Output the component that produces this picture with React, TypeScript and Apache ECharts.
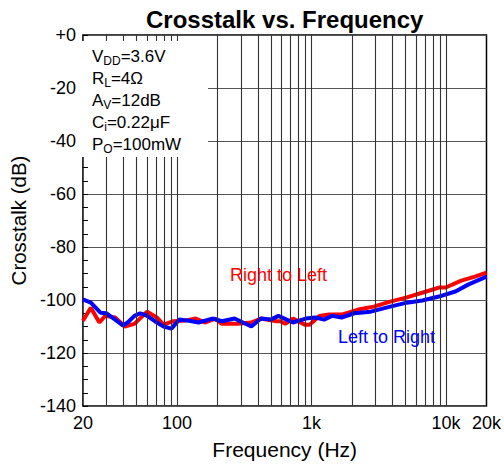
import React, { useEffect, useRef } from "react";
import * as echarts from "echarts";

const redFreq = [20, 22.9, 26.5, 29.3, 34.7, 40.9, 48.3, 60, 70.8, 79.6, 94, 117, 138, 163, 192, 216, 282, 357, 421, 550, 587, 638, 729, 891, 968, 1143, 1350, 1676, 2223, 2903, 3854, 5114, 7132, 8856, 9950, 13000, 16400, 20000];
const redDb = [-107.8, -102.9, -108.5, -106, -106.6, -110, -109, -104.4, -106.6, -109.3, -108, -107.7, -107, -108.5, -107, -109, -109, -108.5, -107, -108, -108, -109, -107, -109.3, -109.3, -106, -105.5, -105.5, -103.6, -102.5, -100.6, -99, -96.8, -95.3, -95.3, -92.7, -91.2, -89.7];

const blueFreq = [20, 22.9, 27.0, 29.8, 34.7, 39.6, 43.0, 48.3, 53.4, 60, 68.5, 79.6, 90.9, 104, 123, 145, 183, 216, 268, 357, 421, 497, 568, 729, 906, 1070, 1242, 1419, 1676, 2080, 2761, 3854, 5114, 6670, 8856, 11750, 14600, 20000];
const blueDb = [-99.8, -101, -104.8, -105, -107.4, -109.6, -108.5, -106, -105, -106, -108, -110, -110.8, -107.4, -107.8, -108.5, -107, -108, -107, -110, -107, -107.4, -106, -108.5, -107, -106.6, -107.4, -106, -106.6, -105, -104.4, -102.5, -101, -100.2, -98.7, -96.8, -94.2, -91.2];

const gridFreqs = [30, 40, 50, 60, 70, 80, 90, 100, 200, 300, 400, 500, 600, 700, 800, 900, 1000, 2000, 3000, 4000, 5000, 6000, 7000, 8000, 9000, 10000];

const conditionLines = [
  "{m|V}{s|DD}{m|=3.6V}",
  "{m|R}{s|L}{m|=4Ω}",
  "{m|A}{s|V}{m|=12dB}",
  "{m|C}{s|i}{m|=0.22μF}",
  "{m|P}{s|O}{m|=100mW}",
];

const FONT = "Arial, 'Liberation Sans', sans-serif";

export default function App() {
  const ref = useRef<HTMLDivElement>(null);
  useEffect(() => {
    document.body.style.margin = "0";
    const chart = echarts.init(ref.current!, null, { renderer: "svg" });
    const zip = (f: number[], v: number[]) => f.map((x, i) => [x, v[i]]);
    chart.setOption({
      animation: false,
      backgroundColor: "#fff",
      textStyle: { fontFamily: FONT },
      title: {
        text: "Crosstalk vs. Frequency",
        left: 141,
        top: 2,
        textStyle: { fontFamily: FONT, fontWeight: "bold", fontSize: 24, color: "#000" },
      },
      grid: {
        left: 74,
        right: 15,
        top: 35,
        bottom: 60,
        show: true,
        borderColor: "#000",
        borderWidth: 1.5,
      },
      xAxis: {
        type: "log",
        logBase: 10,
        min: 20,
        max: 20000,
        name: "Frequency (Hz)",
        nameLocation: "middle",
        nameGap: 33,
        nameTextStyle: { fontFamily: FONT, fontSize: 21, color: "#000" },
        axisLine: { show: false },
        axisTick: { show: false },
        splitLine: { show: false },
        minorSplitLine: { show: false },
        axisLabel: {
          fontFamily: FONT,
          fontSize: 18,
          color: "#000",
          margin: 8,
          formatter: (v: number) => {
            const r = Math.round(v);
            return r >= 1000 ? r / 1000 + "k" : String(r);
          },
        },
      },
      yAxis: {
        type: "value",
        min: -140,
        max: 0,
        interval: 20,
        name: "Crosstalk (dB)",
        nameLocation: "middle",
        nameGap: 44,
        nameTextStyle: { fontFamily: FONT, fontSize: 20.5, color: "#000" },
        axisLine: { show: false },
        axisTick: { show: true, inside: true, length: 5, lineStyle: { color: "#000" } },
        minorTick: { show: true, splitNumber: 4, length: 5, lineStyle: { color: "#000" } },
        splitLine: { show: true, lineStyle: { color: "#555", width: 1.2 } },
        axisLabel: {
          fontFamily: FONT,
          fontSize: 18,
          color: "#000",
          margin: 7,
          formatter: (v: number) => (v === 0 ? "+0" : String(v)),
        },
      },
      graphic: [
        {
          type: "rect",
          z: 10,
          shape: { x: 80, y: 41, width: 128, height: 116 },
          style: { fill: "#fff" },
          silent: true,
        },
        {
          type: "text",
          z: 11,
          x: 92,
          y: 45,
          silent: true,
          style: {
            text: conditionLines.join("\n"),
            fill: "#000",
            rich: {
              m: { fontFamily: FONT, fontSize: 17, lineHeight: 22, fill: "#000" },
              s: { fontFamily: FONT, fontSize: 12, lineHeight: 12, padding: [10, 0, 0, 0], fill: "#000" },
            },
          },
        },
        {
          type: "text",
          z: 11,
          x: 230,
          y: 275,
          silent: true,
          style: { text: "Right to Left", fill: "#ff0000", fontFamily: FONT, fontSize: 18, verticalAlign: "middle" },
        },
        {
          type: "text",
          z: 11,
          x: 338,
          y: 337,
          silent: true,
          style: { text: "Left to Right", fill: "#0000ff", fontFamily: FONT, fontSize: 18, verticalAlign: "middle" },
        },
      ],
      series: [
        {
          type: "line",
          name: "grid",
          z: 1,
          data: [[20, -200]],
          showSymbol: false,
          silent: true,
          lineStyle: { opacity: 0 },
          markLine: {
            silent: true,
            symbol: "none",
            label: { show: false },
            lineStyle: { color: "#333", width: 1.1, type: "solid" },
            data: gridFreqs.map((f) => ({ xAxis: f })),
          },
        },
        {
          type: "line",
          name: "Right to Left",
          z: 3,
          data: zip(redFreq, redDb),
          showSymbol: false,
          smooth: false,
          lineStyle: { color: "#ff0000", width: 4 },
          itemStyle: { color: "#ff0000" },
        },
        {
          type: "line",
          name: "Left to Right",
          z: 4,
          data: zip(blueFreq, blueDb),
          showSymbol: false,
          smooth: false,
          lineStyle: { color: "#0000ff", width: 4 },
          itemStyle: { color: "#0000ff" },
        },
      ],
    });
    return () => chart.dispose();
  }, []);
  return <div ref={ref} style={{ width: 504, height: 466 }} />;
}
